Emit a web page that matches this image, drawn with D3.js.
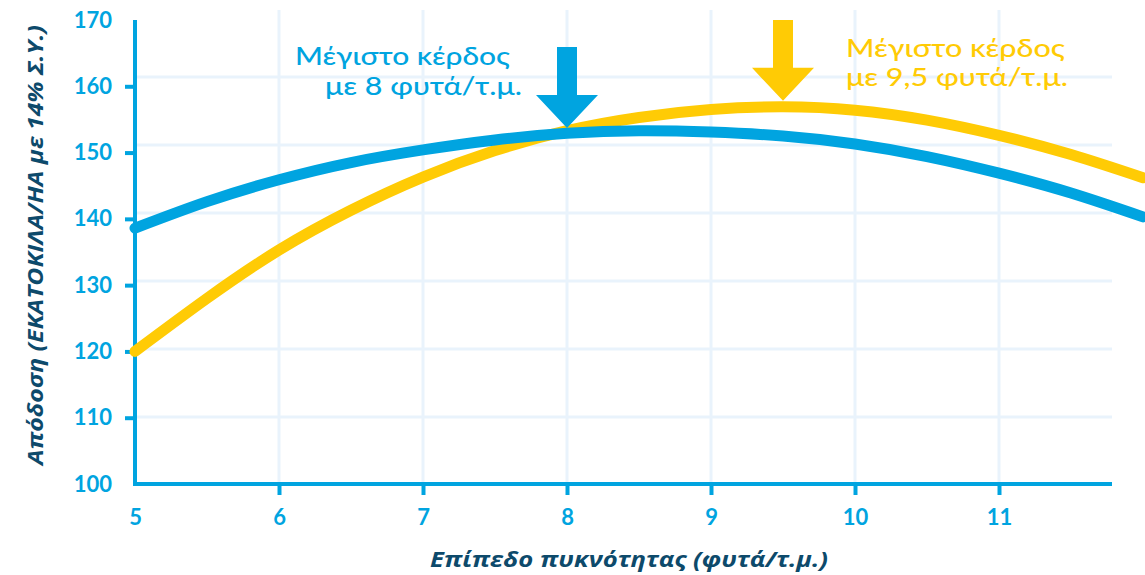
<!DOCTYPE html>
<html>
<head>
<meta charset="utf-8">
<script src="https://cdn.jsdelivr.net/npm/d3@7"></script>
<style>
body { margin: 0; background: #fff; }
svg { display: block; font-family: "Open Sans", Lato, sans-serif; }
</style>
</head>
<body>
<svg width="1145" height="575"></svg>
<script>
// density (plants / m2)
const density = [5, 5.5, 6, 6.5, 7, 7.5, 8, 8.5, 9, 9.5, 10, 10.5, 11, 11.5, 12];
// yield curves (quintals/ha)
const blueYield   = [138.6, 142.6, 145.9, 148.5, 150.4, 151.9, 152.9, 153.3, 153.1, 152.5, 151.3, 149.4, 146.9, 143.9, 140.3];
const yellowYield = [120.0, 128.0, 135.3, 141.3, 146.3, 150.3, 153.3, 155.3, 156.5, 156.9, 156.4, 154.9, 152.6, 149.7, 146.2];
const xTicks = [5, 6, 7, 8, 9, 10, 11];
const yTicks = [100, 110, 120, 130, 140, 150, 160, 170];
const gridY = [110, 120, 130, 140, 150, 160];
// annotations: arrow position (x, tip value) and labels
const blueNote = { x: 8, tip: 153.7, lines: ["Μέγιστο κέρδος", "με 8 φυτά/τ.μ."] };
const yellowNote = { x: 9.5, tip: 157.8, lines: ["Μέγιστο κέρδος", "με 9,5 φυτά/τ.μ."] };

const BLUE = "#00a4e0", YELLOW = "#ffcb05", NAVY = "#0d4a6b", GRID = "#e9f3fc";

const svg = d3.select("svg");
const x = d3.scaleLinear().domain([5, 12]).range([135, 1143]);
const y = d3.scaleLinear().domain([100, 170]).range([484, 20]);
// the light grid in the original sits on a slightly different spacing
const yGrid = d3.scaleLinear().domain([100, 170]).range([485, 9]);

// grid
svg.append("g").selectAll("line").data(gridY).enter().append("line")
  .attr("x1", 135).attr("x2", 1112)
  .attr("y1", d => yGrid(d)).attr("y2", d => yGrid(d))
  .attr("stroke", GRID).attr("stroke-width", 3);
svg.append("g").selectAll("line").data(xTicks.slice(1)).enter().append("line")
  .attr("x1", d => x(d)).attr("x2", d => x(d))
  .attr("y1", 10).attr("y2", 484)
  .attr("stroke", GRID).attr("stroke-width", 3);

// axes
const xAxis = svg.append("g").attr("transform", "translate(0,484)")
  .call(d3.axisBottom(x).tickValues(xTicks).tickSize(11).tickPadding(10).tickFormat(d3.format("d")));
const yAxis = svg.append("g").attr("transform", "translate(135,0)")
  .call(d3.axisLeft(y).tickValues(yTicks).tickSize(10).tickPadding(13).tickFormat(d3.format("d")));
xAxis.select(".domain").attr("d", "M133,0H1112");
yAxis.select(".domain").attr("d", "M0,20V486");
[xAxis, yAxis].forEach(a => {
  a.select(".domain").attr("stroke", BLUE).attr("stroke-width", 4);
  a.selectAll(".tick line").attr("stroke", BLUE).attr("stroke-width", 4);
  a.selectAll(".tick text").attr("fill", BLUE).attr("font-size", 22).attr("font-weight", 700)
    .attr("font-family", "Lato, sans-serif");
});
xAxis.selectAll(".tick").filter(d => d === 5).select("line").remove();
yAxis.selectAll(".tick").filter(d => d === 100 || d === 170).select("line").remove();
xAxis.selectAll(".tick text").attr("dy", "0.9em");

// axis titles
svg.append("text")
  .attr("transform", "translate(43,245) rotate(-90)")
  .attr("text-anchor", "middle")
  .attr("fill", NAVY).attr("font-size", 21).attr("font-weight", 700).attr("font-style", "italic")
  .attr("textLength", 440).attr("lengthAdjust", "spacingAndGlyphs")
  .text("Απόδοση (ΕΚΑΤΟΚΙΛΑ/ΗΑ με 14% Σ.Υ.)");
svg.append("text")
  .attr("x", 629).attr("y", 567)
  .attr("text-anchor", "middle")
  .attr("fill", NAVY).attr("font-size", 21).attr("font-weight", 700).attr("font-style", "italic")
  .attr("textLength", 398).attr("lengthAdjust", "spacingAndGlyphs")
  .text("Επίπεδο πυκνότητας (φυτά/τ.μ.)");

// curves
const line = d3.line().x((d, i) => x(density[i])).y(d => y(d)).curve(d3.curveNatural);
svg.append("path").datum(yellowYield).attr("d", line)
  .attr("fill", "none").attr("stroke", YELLOW).attr("stroke-width", 11).attr("stroke-linecap", "round");
svg.append("path").datum(blueYield).attr("d", line)
  .attr("fill", "none").attr("stroke", BLUE).attr("stroke-width", 11).attr("stroke-linecap", "round");

// arrows
function arrow(note, color, shaftTop) {
  const cx = x(note.x), tip = y(note.tip);
  const headTop = tip - 33;
  svg.append("path")
    .attr("d", `M${cx - 10},${shaftTop}H${cx + 10}V${headTop}H${cx + 31}L${cx},${tip}L${cx - 31},${headTop}H${cx - 10}Z`)
    .attr("fill", color);
}
arrow(blueNote, BLUE, 47);
arrow(yellowNote, YELLOW, 20);

// labels
function label(lines, color, xs, ys, lens) {
  svg.append("g").selectAll("text").data(lines).enter().append("text")
    .attr("x", (d, i) => xs[i]).attr("y", (d, i) => ys[i])
    .attr("fill", color).attr("font-size", 24).attr("font-weight", 500)
    .attr("font-family", "Lato, sans-serif")
    .attr("textLength", (d, i) => lens[i]).attr("lengthAdjust", "spacingAndGlyphs")
    .text(d => d);
}
label(blueNote.lines, BLUE, [295, 325], [65, 95], [215, 197]);
label(yellowNote.lines, YELLOW, [846, 846], [57, 86], [219, 222]);
</script>
</body>
</html>
